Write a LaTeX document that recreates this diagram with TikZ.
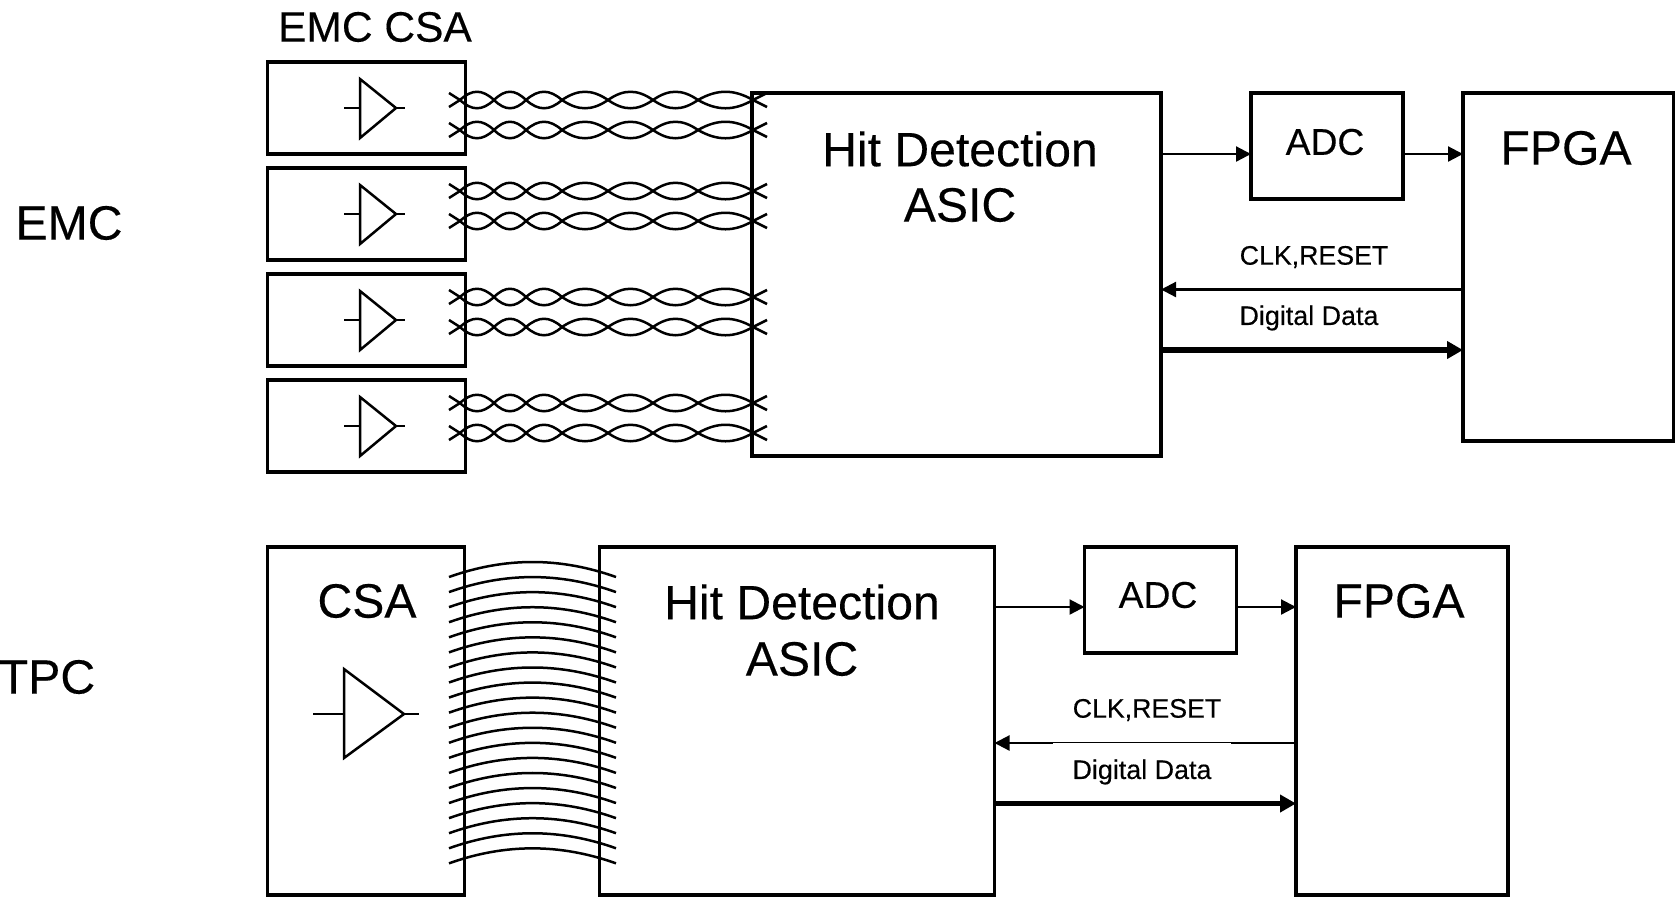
\documentclass[tikz,border=0pt]{standalone}
\usepackage{fontspec}
\setmainfont[FakeBold=0.3]{Liberation Sans}
\usetikzlibrary{arrows.meta}

\tikzset{
    blockbox/.style={draw, line width=0.35mm, anchor=north west, inner sep=0pt, outer sep=0pt},
    bigLabel/.style={inner sep=0pt, font=\fontsize{13.7pt}{16pt}\selectfont},
    midLabel/.style={inner sep=0pt, font=\fontsize{10.6pt}{13pt}\selectfont},
    clkLabel/.style={inner sep=0pt, font=\fontsize{7.6pt}{9pt}\selectfont},
    dataLabel/.style={inner sep=0pt, font=\fontsize{7.65pt}{9pt}\selectfont},
    wire/.style={line width=0.25mm},
    sigArrow/.style={line width=0.22mm, -{Triangle[length=1.5mm,width=1.5mm]}},
    busArrow/.style={line width=0.55mm, -{Triangle[length=1.6mm,width=1.7mm]}}
}

\begin{document}
\begin{tikzpicture}[x=0.1mm, y=-0.1mm]
    \useasboundingbox (0,0) rectangle (1675,896);

    % Row labels
    \node[bigLabel] (emcLabel) at (69,223) {EMC};
    \node[bigLabel] (tpcLabel) at (47,677) {TPC};
    \node[inner sep=0pt, font=\fontsize{12.1pt}{14pt}\selectfont] (emcCsaLabel) at (375,27) {EMC CSA};

    % EMC amplifier boxes
    \foreach \i/\yTop in {1/62, 2/168, 3/274, 4/380} {
        \node[blockbox, minimum width=19.8mm, minimum height=9.2mm] (csaE\i) at (267.5,\yTop) {};
        \draw[wire] (360,\yTop+17) -- (396,\yTop+46) -- (360,\yTop+76) -- cycle;
        \draw[wire] (344,\yTop+46) -- (360,\yTop+46);
        \draw[wire] (396,\yTop+46) -- (405,\yTop+46);
    }

    % Hit detection, ADC and FPGA of the EMC row
    \node[blockbox, minimum width=40.9mm, minimum height=36.3mm] (asicE) at (752,93) {};
    \node[blockbox, minimum width=15.2mm, minimum height=10.6mm] (adcE) at (1251,93) {};
    \node[blockbox, minimum width=21.1mm, minimum height=34.8mm] (fpgaE) at (1463,93) {};

    \node[bigLabel] (asicEtop) at (960,149) {Hit Detection};
    \node[bigLabel] (asicEbot) at (960,205) {ASIC};
    \node[midLabel] (adcEtext) at (1325,142) {ADC};
    \node[bigLabel] (fpgaEtext) at (1566,148) {FPGA};
    \node[clkLabel] (clkEtext) at (1314,257) {CLK,RESET};
    \node[dataLabel] (dataEtext) at (1309,318) {Digital Data};

    % Twisted pairs, two for each amplifier
    \foreach \y in {100, 130, 191, 221, 297, 327, 403, 433} {
        \draw[wire] (449,\y-7) -- (460,\y) (449,\y+7) -- (460,\y);
        \draw[wire] (753,\y) -- (767,\y-7) (753,\y) -- (767,\y+7);
        \foreach \a/\b in {460/494, 494/526, 526/562, 562/608, 608/653, 653/698, 698/753} {
            \draw[wire] (\a,\y) .. controls ({\a+0.35*(\b-\a)},\y-11) and ({\a+0.65*(\b-\a)},\y-11) .. (\b,\y);
            \draw[wire] (\a,\y) .. controls ({\a+0.35*(\b-\a)},\y+11) and ({\a+0.65*(\b-\a)},\y+11) .. (\b,\y);
        }
    }

    % Signal levels of the EMC row
    \coordinate (adcLevelE) at (0,154);
    \coordinate (clkLevelE) at (0,289.5);
    \coordinate (dataLevelE) at (0,350);

    \draw[sigArrow] (asicE.east |- adcLevelE) -- (adcE.west |- adcLevelE);
    \draw[sigArrow] (adcE.east |- adcLevelE) -- (fpgaE.west |- adcLevelE);
    \draw[sigArrow] (fpgaE.west |- clkLevelE) -- (asicE.east |- clkLevelE);
    \draw[busArrow] (asicE.east |- dataLevelE) -- (fpgaE.west |- dataLevelE);

    % TPC row
    \node[blockbox, minimum width=19.7mm, minimum height=34.8mm] (csaT) at (267.5,547) {};
    \node[blockbox, minimum width=39.5mm, minimum height=34.8mm] (asicT) at (599.5,547) {};
    \node[blockbox, minimum width=15.2mm, minimum height=10.6mm] (adcT) at (1084.5,547) {};
    \node[blockbox, minimum width=21.2mm, minimum height=34.8mm] (fpgaT) at (1296,547) {};

    \node[bigLabel] (csaTtext) at (367,601) {CSA};
    \node[bigLabel] (asicTtop) at (802,602) {Hit Detection};
    \node[bigLabel] (asicTbot) at (802,659) {ASIC};
    \node[midLabel] (adcTtext) at (1158,595) {ADC};
    \node[bigLabel] (fpgaTtext) at (1399,601) {FPGA};

    % Amplifier of the TPC row
    \draw[wire] (344,669) -- (404,714) -- (344,758) -- cycle;
    \draw[wire] (313,714) -- (344,714);
    \draw[wire] (404,714) -- (419,714);

    % Parallel wires
    \foreach \n in {0,...,19} {
        \pgfmathsetmacro{\y}{577+15.07*\n}
        \draw[wire] (449,\y) .. controls (505,\y-20) and (560,\y-20) .. (616,\y);
    }

    % Signal levels of the TPC row
    \coordinate (adcLevelT) at (0,607);
    \coordinate (clkLevelT) at (0,743);
    \coordinate (dataLevelT) at (0,803.5);

    \draw[sigArrow] (asicT.east |- adcLevelT) -- (adcT.west |- adcLevelT);
    \draw[sigArrow] (adcT.east |- adcLevelT) -- (fpgaT.west |- adcLevelT);
    \draw[sigArrow] (fpgaT.west |- clkLevelT) -- (asicT.east |- clkLevelT);
    \draw[busArrow] (asicT.east |- dataLevelT) -- (fpgaT.west |- dataLevelT);

    \node[clkLabel] (clkTtext) at (1147,710) {CLK,RESET};
    \node[dataLabel, fill=white, minimum width=17.8mm, minimum height=5.8mm] (dataTtext) at (1142,772) {Digital Data};
\end{tikzpicture}
\end{document}
